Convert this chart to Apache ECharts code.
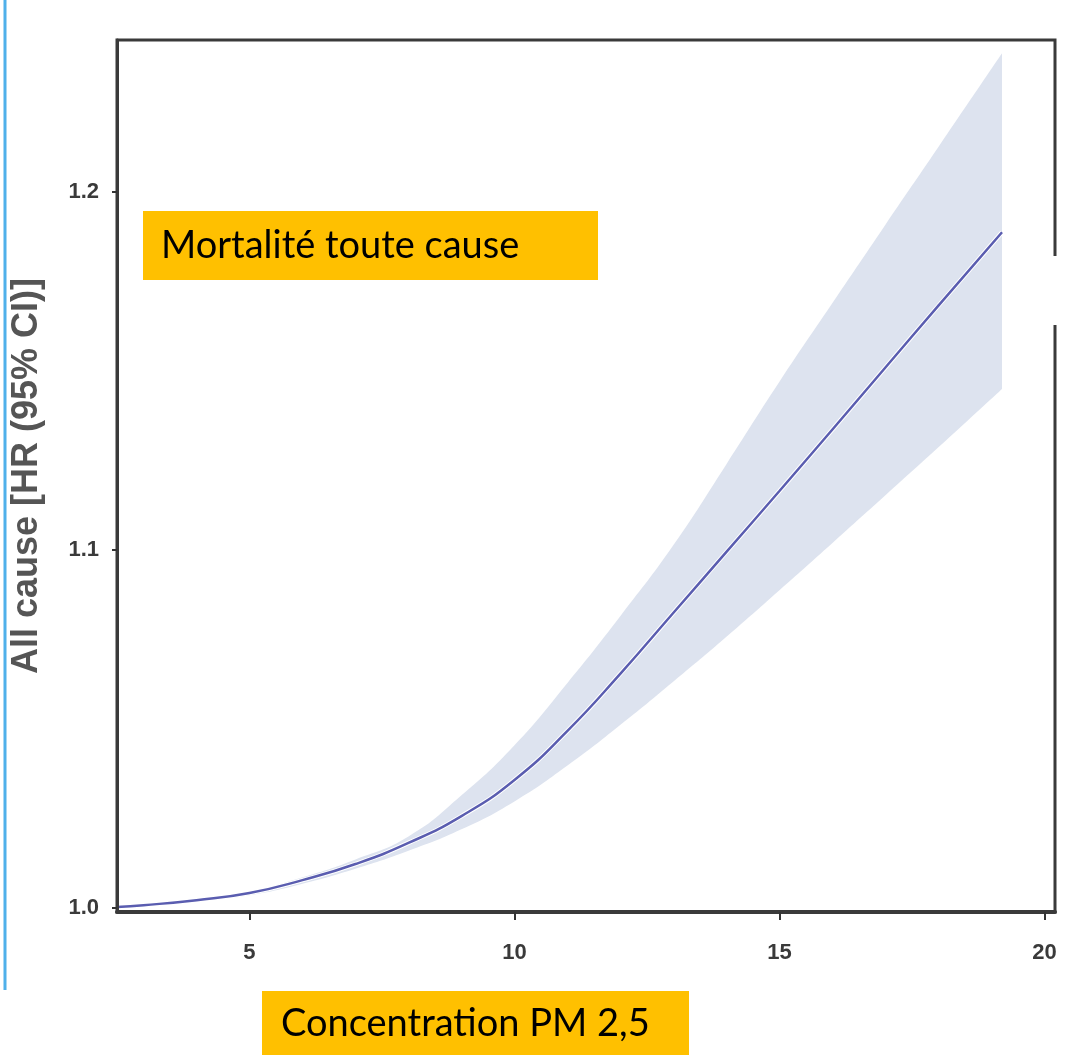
<!DOCTYPE html>
<html><head><meta charset="utf-8">
<script src="https://cdn.jsdelivr.net/npm/echarts@6/dist/echarts.min.js"></script>
<style>html,body{margin:0;padding:0;background:#fff;} #c{width:1071px;height:1056px;}</style>
</head><body><div id="c"></div>
<script>
// PM2.5 concentration (x) and hazard ratio with 95% CI
const pm     = [2.5, 3, 4, 5, 6, 7, 8, 9, 10, 11, 12, 13, 14, 15, 16, 17, 18, 19.2];
const hr     = [1.0003, 1.0008, 1.0022, 1.0042, 1.0078, 1.0123, 1.0182, 1.0257, 1.0358, 1.0495, 1.0655, 1.0825, 1.0995, 1.1165, 1.1337, 1.1510, 1.1683, 1.1888];
const ciLow  = [1.0000, 1.0007, 1.0020, 1.0036, 1.0068, 1.0110, 1.0160, 1.0220, 1.0298, 1.0398, 1.0512, 1.0633, 1.0758, 1.0888, 1.1020, 1.1153, 1.1287, 1.1450];
const ciHigh = [1.0003, 1.0010, 1.0025, 1.0046, 1.0086, 1.0136, 1.0200, 1.0315, 1.0455, 1.0629, 1.0816, 1.1014, 1.1240, 1.1470, 1.1690, 1.1909, 1.2126, 1.2388];
const xTicks = [5, 10, 15, 20];
const yTicks = [1.0, 1.1, 1.2];
const yTitle = 'All cause [HR (95% CI)]';
const boxTitle = 'Mortalité toute cause';
const boxX = 'Concentration PM 2,5';

const chart = echarts.init(document.getElementById('c'), null, {renderer: 'canvas'});
const labelStyle = {fontSize: 22, fontWeight: 'bold', color: '#3a3a3a', fontFamily: 'Liberation Sans, Arial, sans-serif'};
const lineBase = {type: 'line', symbol: 'none', smooth: 0.5, silent: true};
chart.setOption({
  animation: false,
  backgroundColor: '#fff',
  grid: {left: 117, right: 16, top: 40, bottom: 144, show: true, borderColor: '#3a3a3a', borderWidth: 3, backgroundColor: 'transparent', z: 20},
  xAxis: {
    type: 'value', min: 2.5, max: 20.2, z: 30,
    axisLine: {show: true, lineStyle: {color: '#3a3a3a', width: 4}},
    axisTick: {show: true, customValues: xTicks, length: 8, lineStyle: {color: '#333', width: 2}},
    axisLabel: Object.assign({customValues: xTicks, margin: 30}, labelStyle),
    splitLine: {show: false}
  },
  yAxis: {
    type: 'value', min: 0.9989, max: 1.2425, z: 30,
    name: yTitle, nameLocation: 'middle', nameRotate: 90, nameGap: 72,
    nameTextStyle: {fontSize: 36, fontWeight: 'bold', color: '#555', fontFamily: 'Liberation Sans, Arial, sans-serif'},
    axisLine: {show: true, lineStyle: {color: '#3a3a3a', width: 3}},
    axisTick: {show: true, customValues: yTicks, length: 5, lineStyle: {color: '#333', width: 2}},
    axisLabel: Object.assign({customValues: yTicks, margin: 18, formatter: v => v.toFixed(1)}, labelStyle),
    splitLine: {show: false}
  },
  series: [
    Object.assign({}, lineBase, {name: 'upper', data: pm.map((x, i) => [x, ciHigh[i]]), z: 1,
     lineStyle: {width: 0, opacity: 0}, areaStyle: {color: '#dde3ef', opacity: 1, origin: 'start'}}),
    Object.assign({}, lineBase, {name: 'lower', data: pm.map((x, i) => [x, ciLow[i]]), z: 2,
     lineStyle: {width: 0, opacity: 0}, areaStyle: {color: '#ffffff', opacity: 1, origin: 'start'}}),
    Object.assign({}, lineBase, {name: 'halo', data: pm.map((x, i) => [x, hr[i]]), z: 3,
     lineStyle: {color: '#ffffff', width: 4.5}}),
    Object.assign({}, lineBase, {name: 'HR', data: pm.map((x, i) => [x, hr[i]]), z: 4,
     lineStyle: {color: '#5a5db0', width: 2.5}})
  ],
  graphic: [
    {type: 'line', shape: {x1: 5, y1: 0, x2: 5, y2: 990}, style: {stroke: '#4fb0ea', lineWidth: 3}},
    {type: 'rect', shape: {x: 1049, y: 256, width: 14, height: 69}, style: {fill: '#fff'}, z: 100},
    {type: 'rect', shape: {x: 143, y: 211, width: 455, height: 69}, style: {fill: '#FFC000'}, z: 100},
    {type: 'text', x: 161, y: 246, z: 101, style: {text: boxTitle, fontSize: 38, fontFamily: 'Lato, Open Sans, sans-serif', fill: '#000', align: 'left', verticalAlign: 'middle'}},
    {type: 'rect', shape: {x: 262, y: 991, width: 427, height: 64}, style: {fill: '#FFC000'}, z: 100},
    {type: 'text', x: 281, y: 1024, z: 101, style: {text: boxX, fontSize: 38, fontFamily: 'Lato, Open Sans, sans-serif', fill: '#000', align: 'left', verticalAlign: 'middle'}}
  ]
});
</script></body></html>
